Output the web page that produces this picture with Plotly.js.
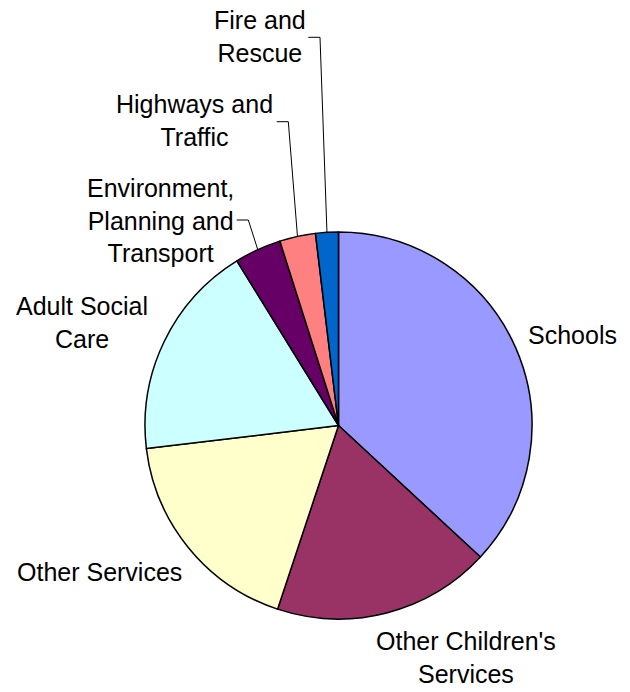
<!DOCTYPE html>
<html>
<head>
<meta charset="utf-8">
<script src="https://cdn.plot.ly/plotly-3.0.1.min.js"></script>
<style>
  html, body { margin: 0; padding: 0; background: #fff; }
  #chart { width: 630px; height: 692px; }
</style>
</head>
<body>
<div id="chart"></div>
<script>
// ---- data ----
const categories = ['Schools', "Other Children's Services", 'Other Services', 'Adult Social Care',
                    'Environment, Planning and Transport', 'Highways and Traffic', 'Fire and Rescue'];
const shares = [36.9, 18.2, 18.0, 18.1, 3.9, 3.0, 1.9];
const labelLines = ['Schools', "Other Children's<br>Services", 'Other Services', 'Adult Social<br>Care',
                    'Environment,<br>Planning and<br>Transport', 'Highways and<br>Traffic', 'Fire and<br>Rescue'];
const sliceColors = ['#9999FF', '#993366', '#FFFFCC', '#CCFFFF', '#660066', '#FF8080', '#0066CC'];

// ---- layout config (pixels) ----
const W = 630, H = 692;
const CX = 338.5, CY = 425.5, R = 193.5;
const labelPos = [
  [572, 335], [466, 657], [99, 572], [82, 322], [160, 221], [194, 120], [260, 36]
];
// elbow lines for small slices: [index, startX, elbowX, y]
const leaders = [
  [4, 236.7, 248.3, 220],
  [5, 276.7, 288.3, 121.7],
  [6, 308.3, 320, 37.3]
];

const px = x => x / W;
const py = y => 1 - y / H;

const total = shares.reduce((a, b) => a + b, 0);
const midAngle = [];
let acc = 0;
shares.forEach(v => { midAngle.push((acc + v / 2) / total * 2 * Math.PI); acc += v; });

const font = { family: 'Liberation Sans, Arial, sans-serif', size: 25, color: '#000' };

const annotations = labelLines.map((t, i) => ({
  text: t, xref: 'paper', yref: 'paper', x: px(labelPos[i][0]), y: py(labelPos[i][1]),
  xanchor: 'center', yanchor: 'middle', showarrow: false, align: 'center', font: font
}));

const shapes = leaders.map(([i, x0, x1, y]) => {
  const a = midAngle[i];
  const ex = CX + R * Math.sin(a), ey = CY - R * Math.cos(a);
  return {
    type: 'path', xref: 'paper', yref: 'paper',
    path: `M ${px(x0)},${py(y)} L ${px(x1)},${py(y)} L ${px(ex)},${py(ey)}`,
    line: { color: '#000', width: 1 }
  };
});

const trace = {
  type: 'pie',
  labels: categories,
  values: shares,
  sort: false,
  direction: 'clockwise',
  rotation: 0,
  textinfo: 'none',
  hoverinfo: 'label+percent',
  marker: { colors: sliceColors, line: { color: '#000', width: 1.5 } },
  domain: { x: [(CX - R) / W, (CX + R) / W], y: [1 - (CY + R) / H, 1 - (CY - R) / H] }
};

const layout = {
  width: W, height: H,
  margin: { l: 0, r: 0, t: 0, b: 0 },
  paper_bgcolor: '#fff',
  showlegend: false,
  annotations: annotations,
  shapes: shapes
};

Plotly.newPlot('chart', [trace], layout, { displayModeBar: false, staticPlot: true });
</script>
</body>
</html>
